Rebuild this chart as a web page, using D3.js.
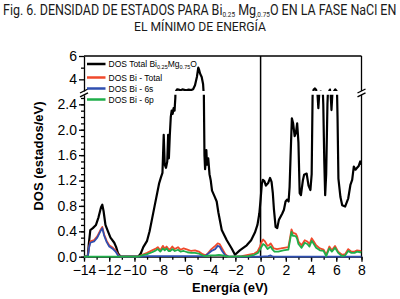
<!DOCTYPE html>
<html><head><meta charset="utf-8">
<script src="https://cdn.jsdelivr.net/npm/d3@7/dist/d3.min.js"></script>
<style>body{margin:0;background:#fff;}svg{display:block;}</style>
</head><body>
<svg id="c" width="400" height="299"></svg>
<script>
// ---------- DATA ----------
const xTickValues = [-14,-12,-10,-8,-6,-4,-2,0,2,4,6,8];
const yLowTicks = [0,0.4,0.8,1.2,1.6,2.0,2.4];
const yUpTicks = [4,6];
const legendLabels = ["DOS Total", "DOS Bi - Total", "DOS Bi - 6s", "DOS Bi - 6p"];
const seriesColors = ["#000000", "#f0492b", "#2f4fb0", "#1fae4a"];

const dosTotal = [[-14,0],[-13.7,0],[-13.62,0.2],[-13.5,0.42],[-13.3,0.45],[-13.05,0.5],[-12.85,0.62],[-12.65,0.78],[-12.55,0.82],[-12.45,0.72],[-12.3,0.5],[-12.1,0.4],[-11.9,0.3],[-11.6,0.22],[-11.45,0.15],[-11.3,0.05],[-11.1,0],
[-9.7,0],[-9.5,0.05],[-9.3,0.15],[-9.0,0.25],[-8.8,0.4],[-8.6,0.6],[-8.4,0.8],[-8.2,1.0],[-8.05,1.15],[-7.9,1.25],[-7.78,1.32],[-7.68,1.92],[-7.6,1.45],[-7.5,1.4],[-7.4,1.5],[-7.33,1.92],[-7.27,1.55],[-7.2,1.9],[-7.12,2.2],[-7.05,2.3],[-6.97,2.25],[-6.9,2.34],[-6.82,2.3],[-6.76,2.5],[-6.7,3.0],
[-6.62,3.15],[-6.5,3.12],[-6.35,3.06],[-6.2,3.14],[-6.05,3.1],[-5.9,3.06],[-5.7,3.12],[-5.5,3.08],[-5.35,3.15],[-5.2,3.5],[-5.05,4.2],[-4.94,5.0],[-4.87,4.8],[-4.8,4.5],[-4.67,4.2],[-4.56,3.6],[-4.5,2.6],[-4.45,1.6],[-4.4,1.38],[-4.35,1.5],[-4.3,1.68],[-4.25,1.45],[-4.15,1.55],[-4.05,1.3],[-3.95,1.2],[-3.85,1.04],
[-3.65,0.95],[-3.48,0.87],[-3.35,0.7],[-3.08,0.42],[-2.68,0.26],[-2.29,0.13],[-2.03,0.03],[-1.65,0.1],[-1.1,0.18],[-0.75,0.26],[-0.45,0.38],[-0.25,0.5],[-0.1,0.68],[0.0,0.9],[0.1,1.15],[0.18,1.21],[0.3,1.19],[0.42,1.12],[0.6,1.16],[0.75,1.24],[0.87,1.18],[0.97,1.0],[1.06,0.74],[1.19,0.47],[1.32,0.45],[1.45,0.58],[1.72,0.68],[1.85,0.74],[1.98,0.87],[2.11,0.9],[2.22,0.87],[2.3,1.1],[2.38,1.6],[2.48,2.18],[2.58,2.1],[2.7,1.9],[2.8,1.95],[2.9,2.1],[3.0,1.8],[3.1,1.0],[3.2,0.97],[3.35,1.2],[3.45,1.29],[3.65,1.31],[3.8,1.12],[3.95,1.05],[4.05,1.3],
[4.12,2.5],[4.2,3.1],[4.3,3.22],[4.4,3.1],[4.5,2.6],[4.58,2.34],[4.66,2.6],[4.75,2.95],[4.88,2.9],[4.97,2.4],[5.05,1.5],[5.12,0.97],[5.2,1.3],[5.3,2.4],[5.4,2.9],[5.5,3.12],[5.57,2.5],[5.62,2.31],[5.7,2.6],[5.8,2.95],[5.92,3.14],[6.02,3.0],[6.1,2.2],[6.17,1.23],[6.33,0.94],[6.47,0.81],[6.7,0.79],[6.95,0.92],[7.12,1.13],[7.26,1.21],[7.39,1.42],[7.52,1.37],[7.65,1.4],[7.78,1.43],[7.9,1.5],[8.0,1.45]];

const dosBiTotal = [[-14,0],[-13.7,0],[-13.6,0.15],[-13.5,0.24],[-13.2,0.26],[-12.95,0.32],[-12.7,0.42],[-12.55,0.47],[-12.4,0.35],[-12.2,0.25],[-12.0,0.18],[-11.7,0.14],[-11.5,0.1],[-11.3,0.03],[-11.1,0],[-9.7,0],[-9.4,0.03],[-9.0,0.06],[-8.6,0.1],[-8.3,0.13],[-8.15,0.15],[-7.95,0.1],[-7.75,0.17],[-7.6,0.13],[-7.45,0.16],[-7.3,0.12],[-7.15,0.12],[-7.0,0.16],[-6.8,0.12],[-6.55,0.15],[-6.35,0.11],[-6.1,0.13],[-5.8,0.11],[-5.5,0.09],[-5.2,0.1],[-4.9,0.08],[-4.6,0.04],[-4.35,0.02],[-4.15,0.06],[-3.9,0.12],[-3.65,0.16],[-3.4,0.21],[-3.25,0.2],[-3.05,0.13],[-2.8,0.04],[-2.55,0.0],[-2.0,0],[-1.5,0.01],[-1.0,0.03],[-0.5,0.05],[-0.25,0.08],[-0.05,0.16],[0.05,0.22],[0.2,0.27],[0.35,0.24],[0.55,0.17],[0.65,0.18],[0.8,0.21],[0.95,0.16],[1.05,0.13],[1.3,0.12],[1.6,0.13],[1.85,0.14],[2.2,0.15],[2.32,0.28],[2.45,0.43],[2.55,0.38],[2.65,0.37],[2.8,0.36],[2.9,0.32],[3.0,0.24],[3.25,0.18],[3.5,0.26],[3.7,0.24],[3.88,0.2],[4.05,0.29],[4.22,0.24],[4.4,0.18],[4.7,0.13],[5.0,0.11],[5.2,0.03],[5.45,0.16],[5.65,0.1],[5.9,0.17],[6.15,0.08],[6.45,0.03],[6.7,0.04],[6.95,0.12],[7.2,0.08],[7.45,0.08],[7.65,0.1],[7.9,0.09],[8,0.09]];

const dosBi6s = [[-14,0],[-13.7,0],[-13.6,0.14],[-13.5,0.22],[-13.2,0.24],[-12.95,0.3],[-12.7,0.4],[-12.55,0.45],[-12.4,0.33],[-12.2,0.23],[-12.0,0.16],[-11.7,0.12],[-11.5,0.08],[-11.3,0.02],[-11.1,0],[-9.7,0],[-9,0.01],[-8,0.01],[-7,0.01],[-6,0.01],[-5,0.01],[-4.4,0.01],[-4.2,0.04],[-3.9,0.09],[-3.6,0.12],[-3.4,0.17],[-3.25,0.16],[-3.05,0.09],[-2.8,0.02],[-2.5,0],[0,0],[0.6,0.01],[0.8,0.02],[1.0,0],[8,0]];

const dosBi6p = [[-14,0],[-9.7,0],[-9.4,0.02],[-9.0,0.04],[-8.6,0.07],[-8.3,0.1],[-8.15,0.12],[-7.95,0.08],[-7.75,0.13],[-7.6,0.1],[-7.45,0.13],[-7.3,0.09],[-7.15,0.09],[-7.0,0.12],[-6.8,0.09],[-6.55,0.11],[-6.35,0.08],[-6.1,0.09],[-5.8,0.07],[-5.5,0.06],[-5.2,0.06],[-4.9,0.05],[-4.6,0.02],[-4.35,0.01],[-4.0,0.02],[-3.6,0.02],[-3.3,0.03],[-3.0,0.02],[-2.6,0],[-1.0,0.01],[-0.5,0.03],[-0.2,0.06],[0.0,0.13],[0.2,0.2],[0.35,0.18],[0.55,0.12],[0.8,0.16],[0.95,0.11],[1.1,0.08],[1.4,0.08],[1.8,0.1],[2.2,0.11],[2.32,0.24],[2.45,0.39],[2.55,0.33],[2.65,0.33],[2.8,0.32],[2.9,0.28],[3.0,0.2],[3.25,0.14],[3.5,0.22],[3.7,0.2],[3.88,0.16],[4.05,0.25],[4.22,0.2],[4.4,0.14],[4.7,0.1],[5.0,0.09],[5.2,0.01],[5.45,0.13],[5.65,0.08],[5.9,0.14],[6.15,0.06],[6.45,0.01],[6.7,0.02],[6.95,0.09],[7.2,0.06],[7.45,0.06],[7.65,0.08],[7.9,0.07],[8,0.07]];

const series = [dosTotal, dosBiTotal, dosBi6s, dosBi6p];

// ---------- LAYOUT ----------
const svg = d3.select("#c");
const L = 84, R = 361.5, T = 56, B = 256.7;
const lowTop = 94.8, upBot = 91;
const x = d3.scaleLinear().domain([-14, 8]).range([L, R]);
const yLow = d3.scaleLinear().domain([0, 2.55]).range([B, lowTop]);
const yUp = d3.scaleLinear().domain([3, 6]).range([upBot, T]);

// title
const title = svg.append("g").attr("fill", "#1a1a1a")
  .style("font-family", "Roboto, 'Liberation Sans', sans-serif");
const t1 = title.append("text").attr("x", 0).attr("y", 15).style("font-size", "14.5px");
t1.append("tspan").text("Fig. 6. DENSIDAD DE ESTADOS PARA Bi");
t1.append("tspan").attr("font-size", "7.5px").attr("dy", 2).text("0.25");
t1.append("tspan").attr("dy", -2).text(" Mg");
t1.append("tspan").attr("font-size", "7.5px").attr("dy", 2).text(",0.75");
t1.append("tspan").attr("dy", -2).text("O EN LA FASE NaCl EN");
const w1 = t1.node().getComputedTextLength();
t1.attr("transform", `translate(3,0) scale(${394 / w1},1)`);
const t2 = title.append("text").attr("x", 0).attr("y", 31).style("font-size", "13px").text("EL MÍNIMO DE ENERGÍA");
const w2 = t2.node().getComputedTextLength();
t2.attr("transform", `translate(${200 - 66},0) scale(${132 / w2},1)`);

const font = "Arial, 'Liberation Sans', sans-serif";

// clip paths
const defs = svg.append("defs");
defs.append("clipPath").attr("id", "clipLow").append("rect")
  .attr("x", L).attr("y", lowTop).attr("width", R - L).attr("height", B - lowTop + 2);
defs.append("clipPath").attr("id", "clipUp").append("rect")
  .attr("x", L).attr("y", T).attr("width", R - L).attr("height", upBot - T);

// axes
const axStyle = g => {
  g.selectAll("path,line").attr("stroke", "#000").attr("stroke-width", 1.3);
  g.selectAll("text").attr("fill", "#000").style("font-family", font).style("font-size", "14px");
};
// x axis
const xMinor = d3.range(-14, 8.01, 1);
svg.append("g").attr("transform", `translate(0,${B})`)
  .call(d3.axisBottom(x).tickValues(xMinor).tickSize(3).tickFormat(""))
  .call(axStyle).call(g => g.select(".domain").remove());
svg.append("g").attr("transform", `translate(0,${B})`)
  .call(d3.axisBottom(x).tickValues(xTickValues).tickSize(5).tickSizeOuter(0).tickPadding(3).tickFormat(d3.format("d")))
  .call(axStyle);

// y lower
const yLowMinor = d3.range(0, 2.51, 0.1);
svg.append("g").attr("transform", `translate(${L},0)`)
  .call(d3.axisLeft(yLow).tickValues(yLowMinor).tickSize(3).tickFormat(""))
  .call(axStyle).call(g => g.select(".domain").remove());
svg.append("g").attr("transform", `translate(${L},0)`)
  .call(d3.axisLeft(yLow).tickValues(yLowTicks).tickSize(5).tickSizeOuter(0).tickPadding(2).tickFormat(d3.format(".1f")))
  .call(axStyle);
// y upper
svg.append("g").attr("transform", `translate(${L},0)`)
  .call(d3.axisLeft(yUp).tickValues([5]).tickSize(3).tickFormat(""))
  .call(axStyle).call(g => g.select(".domain").remove());
svg.append("g").attr("transform", `translate(${L},0)`)
  .call(d3.axisLeft(yUp).tickValues(yUpTicks).tickSize(5).tickSizeOuter(0).tickPadding(2).tickFormat(d3.format("d")))
  .call(axStyle);

// frame: top and right
const frame = svg.append("g").attr("stroke", "#000").attr("stroke-width", 1.3).attr("fill", "none");
frame.append("line").attr("x1", L).attr("x2", R).attr("y1", T).attr("y2", T);
frame.append("line").attr("x1", R).attr("x2", R).attr("y1", T).attr("y2", upBot);
frame.append("line").attr("x1", R).attr("x2", R).attr("y1", lowTop).attr("y2", B);
// break marks
[L, R].forEach(px => {
  frame.append("line").attr("x1", px - 4).attr("y1", upBot + 2).attr("x2", px + 4).attr("y2", upBot - 2);
  frame.append("line").attr("x1", px - 4).attr("y1", lowTop + 2).attr("x2", px + 4).attr("y2", lowTop - 2);
});
// Fermi level line
svg.append("line").attr("x1", x(0)).attr("x2", x(0)).attr("y1", T).attr("y2", B)
  .attr("stroke", "#000").attr("stroke-width", 1.5);

// curves
const lineLow = d3.line().x(d => x(d[0])).y(d => yLow(d[1]));
const lineUp = d3.line().x(d => x(d[0])).y(d => yUp(d[1]));
series.forEach((s, i) => {
  const w = i === 0 ? 2.2 : 1.8;
  svg.append("path").datum(s).attr("d", lineLow).attr("clip-path", "url(#clipLow)")
    .attr("fill", "none").attr("stroke", seriesColors[i]).attr("stroke-width", w).attr("stroke-linejoin", "round");
  svg.append("path").datum(s).attr("d", lineUp).attr("clip-path", "url(#clipUp)")
    .attr("fill", "none").attr("stroke", seriesColors[i]).attr("stroke-width", w).attr("stroke-linejoin", "round");
});

// legend
const lg = svg.append("g").style("font-family", font).style("font-size", "8.5px");
const rowsY = [64, 77.5, 88.5, 99.5];
legendLabels.forEach((lab, i) => {
  lg.append("line").attr("x1", 87).attr("x2", 105.5).attr("y1", rowsY[i]).attr("y2", rowsY[i])
    .attr("stroke", seriesColors[i]).attr("stroke-width", 2.5);
  const t = lg.append("text").attr("x", 108.5).attr("y", rowsY[i] + 3).attr("fill", "#000");
  t.append("tspan").text(lab);
  if (i === 0) {
    t.append("tspan").text(" Bi");
    t.append("tspan").attr("font-size", "5.5px").attr("dy", 2).text("0.25");
    t.append("tspan").attr("dy", -2).text("Mg");
    t.append("tspan").attr("font-size", "5.5px").attr("dy", 2).text("0.75");
    t.append("tspan").attr("dy", -2).text("O");
  }
});

// axis titles
svg.append("text").attr("x", 230).attr("y", 292).attr("text-anchor", "middle")
  .style("font-family", font).style("font-size", "13px").style("font-weight", "bold").text("Energía (eV)");
svg.append("text").attr("transform", "translate(43,156) rotate(-90)").attr("text-anchor", "middle")
  .style("font-family", font).style("font-size", "13px").style("font-weight", "bold").text("DOS (estados/eV)");
</script>
</body></html>
